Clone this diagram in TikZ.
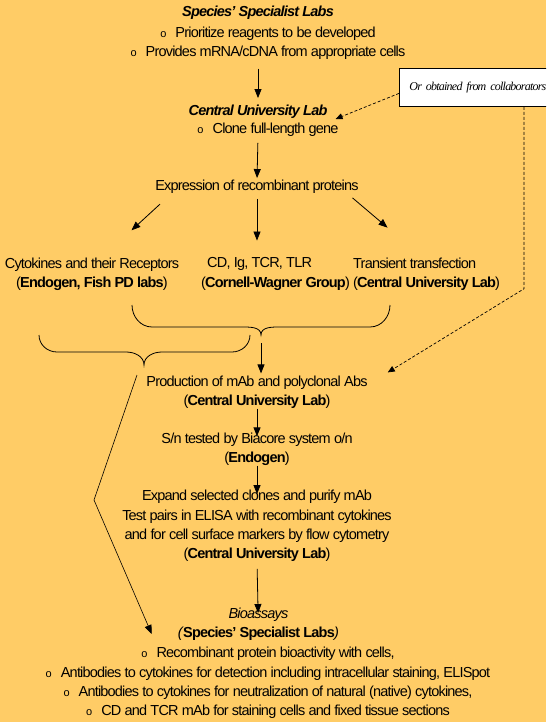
\documentclass[tikz,border=0pt]{standalone}
\usepackage{fontspec}
\setmainfont{Liberation Sans}[LetterSpace=-5.5]
\newfontfamily\collabfont{Liberation Serif}[LetterSpace=-6.5]
\usepackage{tikz}
\usetikzlibrary{positioning, arrows.meta, calc}
\definecolor{bgorange}{RGB}{255,204,102}
\newcommand{\itembullet}{{\fontsize{11}{11}\selectfont o}\hspace{9pt}}
\tikzset{
  labtext/.style={
    font=\fontsize{14.5}{19.3}\selectfont,
    align=center,
    inner sep=0pt
  },
  labtitle/.style={
    font=\fontsize{14.5}{19.3}\selectfont\bfseries\itshape,
    inner sep=0pt
  },
  collabbox/.style={
    draw=black,
    fill=white,
    line width=0.8pt,
    anchor=north west,
    minimum width=170pt,
    minimum height=38pt,
    text width=150pt,
    align=left,
    inner xsep=9pt,
    font=\fontsize{12}{13}\selectfont\collabfont\itshape
  },
  flowarrow/.style={
    -{Triangle[length=9pt,width=7pt]},
    line width=0.8pt
  },
  linkarrow/.style={
    -{Triangle[length=7pt,width=6pt]},
    line width=0.7pt,
    dash pattern=on 3pt off 2pt
  },
  bracepath/.style={
    line width=0.8pt
  }
}

\begin{document}
\begin{tikzpicture}[x=1pt, y=-1pt]
  \useasboundingbox (0,0) rectangle (546,722);
  \fill[bgorange] (0,0) rectangle (546,722);
  \clip (0,0) rectangle (546,722);

  % labs and steps
  \node[labtitle] (spec) at (258,13) {Species’ Specialist Labs};
  \node[labtext] (specitems) at (268,43)
    {\itembullet Prioritize reagents to be developed\\\itembullet Provides mRNA/cDNA from appropriate cells};
  \node[labtitle] (cul) at (258,112) {Central University Lab};
  \node[labtext] (culitems) at (268,130) {\itembullet Clone full-length gene};
  \node[labtext] (expr) at (257,187) {Expression of recombinant proteins};
  \node[labtext] (cyto) at (92,274)
    {Cytokines and their Receptors\\(\textbf{Endogen, Fish PD labs})};
  \node[labtext, align=left, anchor=west] (cdig) at (201,274)
    {\hspace*{6pt}CD, Ig, TCR, TLR\\(\textbf{Cornell-Wagner Group})};
  \node[labtext, align=left, anchor=west] (trans) at (353,274)
    {Transient transfection\\(\textbf{Central University Lab})};
  \node[labtext] (prod) at (257,392)
    {Production of mAb and polyclonal Abs\\(\textbf{Central University Lab})};
  \node[labtext] (biac) at (257,449)
    {S/n tested by Biacore system o/n\\(\textbf{Endogen})};
  \node[labtext] (expand) at (257,526)
    {Expand selected clones and purify mAb\\Test pairs in ELISA with recombinant cytokines\\and for cell surface markers by flow cytometry\\(\textbf{Central University Lab})};
  \node[labtext] (bio) at (258,615) {\textit{Bioassays}};
  \node[labtext] (biolabs) at (258,634)
    {\textit{(}\textbf{Species’ Specialist Labs}\textit{)}};
  \node[labtext] (bioitems) at (268,683)
    {\itembullet Recombinant protein bioactivity with cells,\\\itembullet Antibodies to cytokines for detection including intracellular staining, ELISpot\\\itembullet Antibodies to cytokines for neutralization of natural (native) cytokines,\\\itembullet CD and TCR mAb for staining cells and fixed tissue sections};
  \node[collabbox] (collab) at (399,68) {Or obtained from collaborators};

  % brace points
  \coordinate (ubl) at (132,305);
  \coordinate (ubr) at (390,305);
  \coordinate (ubtip) at (261,335);
  \coordinate (lbl) at (39,335);
  \coordinate (lbr) at (250,335);
  \coordinate (lbtip) at (144,365);
  \coordinate (bend) at (94,500);

  \draw[bracepath] (ubl) to[out=-90,in=180] (152,327) -- (241,327) to[out=0,in=90] (ubtip)
    to[out=90,in=180] (281,327) -- (370,327) to[out=0,in=-90] (ubr);
  \draw[bracepath] (lbl) to[out=-90,in=180] (57,352) -- (126,352) to[out=0,in=90] (lbtip)
    to[out=90,in=180] (162,352) -- (232,352) to[out=0,in=-90] (lbr);

  % arrows
  \draw[flowarrow, shorten <=9pt, shorten >=7pt] (specitems.south -| spec.south) -- (cul.north);
  \draw[flowarrow, shorten <=6pt, shorten >=2pt] (culitems.south -| cul.south) -- (expr.north);
  \draw[flowarrow, shorten <=15pt, shorten >=40pt] ($(expr.south west)+(16,0)$) -- ($(cyto.north)+(10,0)$);
  \draw[flowarrow, shorten <=5pt, shorten >=17pt] (expr.south) -- (expr.south |- cdig.north);
  \draw[flowarrow, shorten <=6pt, shorten >=46pt] ($(expr.south east)+(-11,0)$) -- ($(trans.north)+(-4,0)$);
  \draw[flowarrow, shorten <=8pt, shorten >=2pt] (ubtip) -- (ubtip |- prod.north);
  \draw[flowarrow, shorten >=-4pt] (prod.south) -- (biac.north);
  \draw[flowarrow, shorten >=-4pt] (biac.south) -- (expand.north);
  \draw[flowarrow, shorten <=7pt, shorten >=-5pt] (expand.south) -- (bio.north);
  \draw[flowarrow, line width=0.6pt] ($(lbtip)+(-7,10)$) -- (bend) -- ($(biolabs.west)+(-26,0)$);

  % collaborators
  \draw[linkarrow] ($(collab.west)+(0,6)$) -- ($(cul.east)+(8,7)$);
  \draw[linkarrow] ($(collab.south west)+(125,0)$) -- ++(0,182) -- ($(prod.north east)+(20,-3)$);
\end{tikzpicture}
\end{document}
